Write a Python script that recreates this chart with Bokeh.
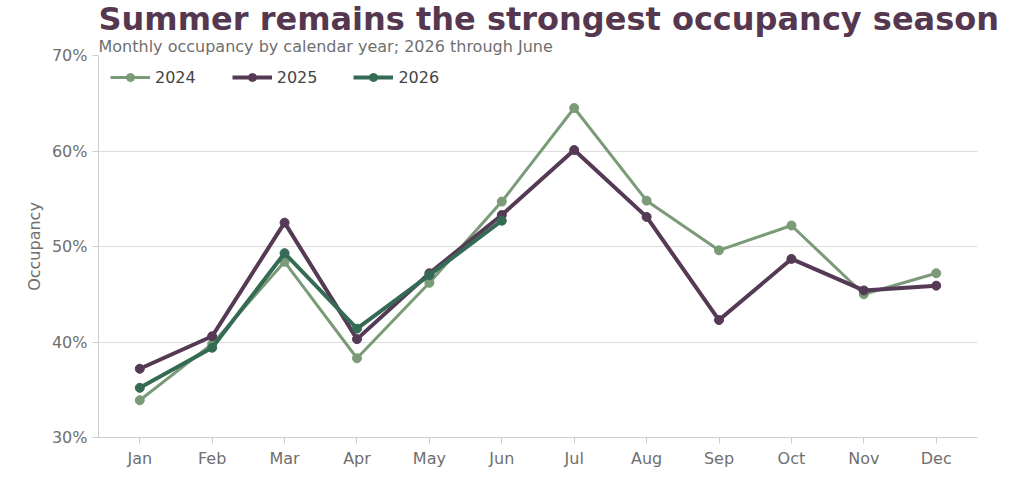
from bokeh.plotting import figure
from bokeh.models import Title, FixedTicker, Legend, LegendItem, Range1d
from bokeh.embed import file_html
from bokeh.resources import INLINE

months = ["Jan","Feb","Mar","Apr","May","Jun","Jul","Aug","Sep","Oct","Nov","Dec"]
occ_2024 = [33.9,39.8,48.4,38.3,46.2,54.7,64.5,54.8,49.6,52.2,45.0,47.2]
occ_2025 = [37.2,40.6,52.5,40.3,47.2,53.3,60.1,53.1,42.3,48.7,45.4,45.9]
occ_2026 = [35.2,39.4,49.3,41.4,47.0,52.7]
yticks = [30,40,50,60,70]

F = "DejaVu Sans"
p = figure(width=1008, height=470, output_backend="svg", toolbar_location=None,
           x_range=Range1d(-0.57, 11.57), y_range=Range1d(30, 70),
           min_border_left=98, min_border_right=31, min_border_bottom=33, min_border_top=0)
p.add_layout(Title(text="Monthly occupancy by calendar year; 2026 through June", text_font=F,
                   text_font_size="12pt", text_font_style="normal", text_color="#6f6f6f",
                   offset=0, standoff=0), "above")
p.add_layout(Title(text="Summer remains the strongest occupancy season", text_font=F,
                   text_font_size="24pt", text_font_style="bold", text_color="#55384f",
                   offset=0, standoff=-6), "above")

series = [("2024", occ_2024, "#7b9a78", 3), ("2025", occ_2025, "#553a55", 4), ("2026", occ_2026, "#356b55", 4)]
items = []
for name, vals, col, lw in series:
    xs = list(range(len(vals)))
    r1 = p.line(xs, vals, line_color=col, line_width=lw)
    r2 = p.scatter(xs, vals, size=9, fill_color=col, line_color=col)
    items.append(LegendItem(label=name, renderers=[r1, r2]))

leg = Legend(items=items, orientation="horizontal", location="top_left", border_line_alpha=0,
             background_fill_alpha=0, label_text_font=F, label_text_font_size="12pt",
             glyph_width=40, spacing=36, margin=6, padding=6)
p.add_layout(leg)

p.xaxis.ticker = FixedTicker(ticks=list(range(12)))
p.xaxis.major_label_overrides = {i: m for i, m in enumerate(months)}
p.yaxis.ticker = FixedTicker(ticks=yticks)
p.yaxis.major_label_overrides = {v: f"{v}%" for v in yticks}
p.yaxis.axis_label = "Occupancy"
for ax in (p.xaxis, p.yaxis):
    ax.major_label_text_font = F
    ax.major_label_text_font_size = "12pt"
    ax.major_label_text_color = "#6f6f6f"
    ax.axis_line_color = "#cccccc"
    ax.major_tick_line_color = "#cccccc"
    ax.minor_tick_line_color = None
    ax.major_tick_out = 6
    ax.major_tick_in = 0
p.yaxis.axis_label_text_font = F
p.yaxis.axis_label_text_font_size = "12pt"
p.yaxis.axis_label_text_font_style = "normal"
p.yaxis.axis_label_text_color = "#6f6f6f"
p.xgrid.grid_line_color = None
p.ygrid.grid_line_color = "#dddddd"
p.outline_line_color = None

open("out.html", "w").write(file_html(p, INLINE))
